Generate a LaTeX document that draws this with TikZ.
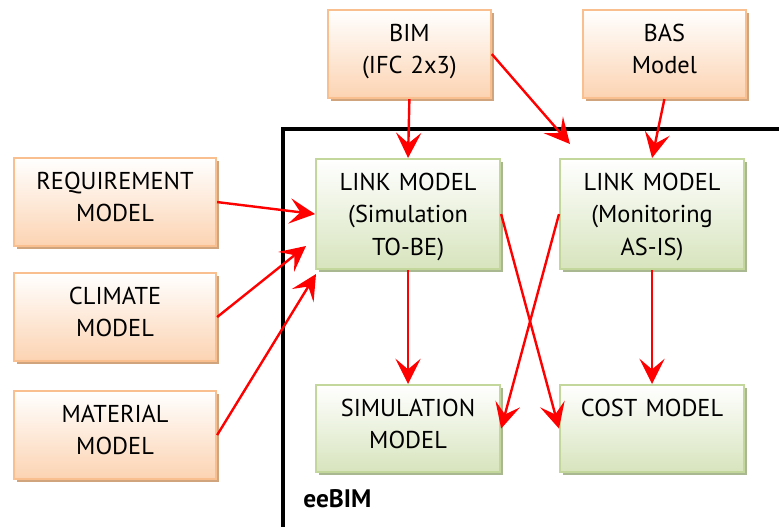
\documentclass[tikz,border=0pt]{standalone}
\usepackage{fontspec}
\setmainfont{PT Sans}
\usetikzlibrary{arrows.meta}
\usetikzlibrary{shadows}
\definecolor{peach}{HTML}{FCD3B2}
\definecolor{peachline}{HTML}{F9BF8F}
\definecolor{peachshadow}{HTML}{D0A57E}
\definecolor{sage}{HTML}{D7E4BD}
\definecolor{sageline}{HTML}{C3D69B}
\definecolor{sageshadow}{HTML}{A9B890}
\tikzset{box/.style = {draw, line width = 1.6pt, inner xsep = 0, inner ysep = 10.5pt,
                       align = center, text height = 12.75pt,
                       font = \fontsize{18.3}{24.6}\selectfont}}
\tikzset{obox/.style = {box, draw = peachline, top color = white, bottom color = peach,
                        drop shadow = {shadow xshift = 2.5pt, shadow yshift = -2.5pt,
                                       fill = peachshadow, opacity = 1},
                        text width = #1, text depth = 32.25pt}}
\tikzset{gbox/.style = {box, draw = sageline, top color = white, bottom color = sage,
                        drop shadow = {shadow xshift = 2.5pt, shadow yshift = -2.5pt,
                                       fill = sageshadow, opacity = 1},
                        text width = 138pt, text depth = #1}}
\tikzset{arr/.style = {red, line width = 1.8pt,
                       -{Stealth[length = 19pt, width = 19pt, inset = 8pt]}}}

\begin{document}
\begin{tikzpicture}[x = 0.75pt, y = -0.75pt]
      \clip (0, 0) rectangle (779, 526);
      \draw [line width = 2.3pt] (283, 540) |- (790, 129);
      \node [obox = 151.5pt, anchor = north west] (req) at (13, 157) {REQUIREMENT\\MODEL};
      \node [obox = 151.5pt, anchor = north west] (clim) at (13, 272) {CLIMATE\\MODEL};
      \node [obox = 151.5pt, anchor = north west] (mat) at (13, 390) {MATERIAL\\MODEL};
      \node [obox = 122pt, anchor = north west] (bim) at (327, 9) {BIM\\(IFC 2x3)};
      \node [obox = 122pt, anchor = north west] (bas) at (582, 9) {BAS\\Model};
      \node [gbox = 48.75pt, anchor = north west] (lsim) at (315, 158) {LINK MODEL\\(Simulation\\TO-BE)};
      \node [gbox = 48.75pt, anchor = north west] (lmon) at (559, 158) {LINK MODEL\\(Monitoring\\AS-IS)};
      \node [gbox = 31.5pt, anchor = north west] (sim) at (315, 384) {SIMULATION\\MODEL};
      \node [gbox = 31.5pt, anchor = north west] (cost) at (559, 384) {COST MODEL};
      \node [anchor = base west, inner sep = 0, font = \fontsize{19}{22}\selectfont\bfseries] (ee) at (303, 507) {eeBIM};
      \coordinate (bimtip) at (570, 144);
      \coordinate (climtip) at (306, 246);
      \coordinate (mattip) at (316, 274);
      \draw [arr] (bim.south) -- (lsim.north);
      \draw [arr] (bim.east) -- (bimtip);
      \draw [arr] (bas.south) -- (lmon.north);
      \draw [arr] (req.east) -- (lsim.west);
      \draw [arr] (clim.east) -- (climtip);
      \draw [arr] (mat.east) -- (mattip);
      \draw [arr] (lsim.south) -- (sim.north);
      \draw [arr] (lmon.south) -- (cost.north);
      \draw [arr] (lsim.east) -- (cost.west);
      \draw [arr] (lmon.west) -- (sim.east);
    \end{tikzpicture}
\end{document}
